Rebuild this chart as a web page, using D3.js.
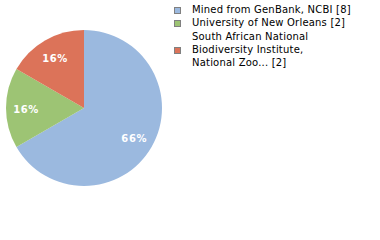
<!DOCTYPE html>
<html>
<head>
<meta charset="utf-8">
<script src="https://cdn.jsdelivr.net/npm/d3@7"></script>
<style>
  body { margin: 0; background: #fff; }
  svg { display: block; font-family: "DejaVu Sans", Verdana, sans-serif; }
</style>
</head>
<body>
<div id="chart"></div>
<script>
// data
var labels = ["Mined from GenBank, NCBI [8]", "University of New Orleans [2]", "South African National|Biodiversity Institute,|National Zoo... [2]"];
var counts = [8, 2, 2];
var pctLabels = ["66%", "16%", "16%"];
var colors = ["#9bb9df", "#9dc474", "#dc7359"];

var width = 380, height = 240;
var svg = d3.select("#chart").append("svg")
    .attr("width", width)
    .attr("height", height);

// pie
var radius = 78;
var g = svg.append("g")
    .attr("transform", "translate(" + 84 + "," + 108 + ")");

var pie = d3.pie().sort(null).value(function(d) { return d; });
var arcs = pie(counts);
var arc = d3.arc().innerRadius(0).outerRadius(radius);
var labelArc = d3.arc().innerRadius(116).outerRadius(0); // centroid at r=58

g.selectAll("path")
    .data(arcs)
    .enter()
    .append("path")
      .attr("d", arc)
      .style("fill", function(d, i) { return colors[i]; });

g.selectAll("text")
    .data(arcs)
    .enter()
    .append("text")
      .attr("transform", function(d) { return "translate(" + labelArc.centroid(d) + ")"; })
      .attr("text-anchor", "middle")
      .attr("dy", "0.45em")
      .style("fill", "#fff")
      .style("font-size", "10px")
      .style("font-weight", "bold")
      .style("letter-spacing", "0.6px")
      .text(function(d, i) { return pctLabels[i]; });

// legend
var rowY = [13, 26, 53];   // baseline of the line next to the swatch
var legend = svg.append("g");
var item = legend.selectAll("g")
    .data(labels)
    .enter()
    .append("g")
      .attr("transform", function(d, i) { return "translate(174," + rowY[i] + ")"; });

item.append("rect")
    .attr("x", 0.5)
    .attr("y", -5.5)
    .attr("width", 6)
    .attr("height", 6)
    .style("fill", function(d, i) { return colors[i]; })
    .style("stroke", "#808080")
    .style("stroke-width", 1);

item.append("text")
    .style("font-size", "10px")
    .style("letter-spacing", "0.2px")
    .style("fill", "#000")
    .each(function(d) {
      var lines = d.split("|");
      var t = d3.select(this);
      lines.forEach(function(l, j) {
        t.append("tspan")
          .attr("x", 18)
          .attr("y", (j - (lines.length - 1) / 2) * 13)
          .text(l);
      });
    });
</script>
</body>
</html>
